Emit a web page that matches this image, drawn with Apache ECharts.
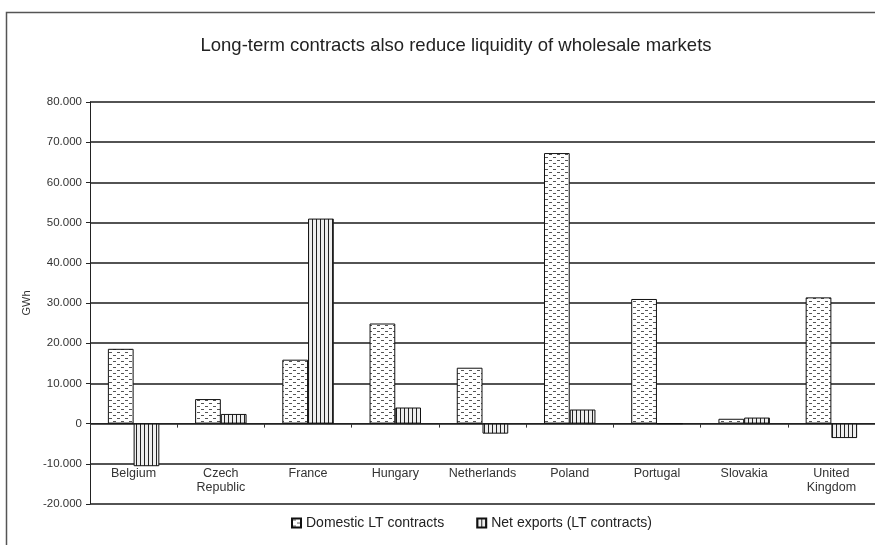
<!DOCTYPE html>
<html>
<head>
<meta charset="utf-8">
<script src="https://cdn.jsdelivr.net/npm/echarts@6/dist/echarts.min.js"></script>
<style>
  html, body { margin: 0; padding: 0; background: #fff; }
  #chart { width: 875px; height: 545px; }
</style>
</head>
<body>
<div id="chart"></div>
<script>
// values (GWh)
const countries = ["Belgium", "Czech\nRepublic", "France", "Hungary", "Netherlands", "Poland", "Portugal", "Slovakia", "United\nKingdom"];
const domesticLT = [18600, 6100, 15900, 24900, 13900, 67300, 31000, 1200, 31400];
const netExportsLT = [-10600, 2400, 51000, 4000, -2500, 3500, 0, 1500, -3600];
const yTicks = { min: -20000, max: 80000, step: 10000 };

// dotted fill like the old excel pattern
function dashPattern() {
  const c = document.createElement("canvas");
  c.width = 8; c.height = 6;
  const g = c.getContext("2d");
  g.fillStyle = "#fff";
  g.fillRect(0, 0, 8, 6);
  g.fillStyle = "#555";
  g.fillRect(1, 1, 3, 1);
  g.fillRect(5, 4, 3, 1);
  return { image: c, repeat: "repeat" };
}

// vertical stripes
function stripePattern() {
  const c = document.createElement("canvas");
  c.width = 4; c.height = 4;
  const g = c.getContext("2d");
  g.fillStyle = "#eee";
  g.fillRect(0, 0, 4, 4);
  g.fillStyle = "#222";
  g.fillRect(0, 0, 1, 4);
  return { image: c, repeat: "repeat" };
}

const fmt = v => (v === 0 ? "0" : (v / 1000) + ".000");

const chart = echarts.init(document.getElementById("chart"), null, { renderer: "canvas" });

chart.setOption({
  animation: false,
  backgroundColor: "#fff",
  textStyle: { fontFamily: "Liberation Sans, Arial, sans-serif" },

  title: {
    text: "Long-term contracts also reduce liquidity of wholesale markets",
    left: 451,
    top: 31,
    textAlign: "center",
    textStyle: { fontSize: 18.5, fontWeight: "normal", color: "#222" }
  },

  // outer chart frame (cropped at right / bottom)
  graphic: [{
    type: "rect",
    shape: { x: 6.5, y: 12.5, width: 900, height: 600 },
    style: { fill: null, stroke: "#555", lineWidth: 1.5 },
    silent: true
  }],

  legend: {
    left: 286,
    top: 511,
    icon: "rect",
    itemWidth: 9,
    itemHeight: 9,
    itemGap: 32,
    textStyle: { fontSize: 14, color: "#222" },
    data: ["Domestic LT contracts", "Net exports (LT contracts)"]
  },

  grid: { left: 90, top: 102, width: 790, height: 402 },

  xAxis: [
    {
      type: "category",
      data: countries,
      axisLine: { onZero: true, lineStyle: { color: "#222", width: 1 } },
      axisTick: { show: true, length: 4, lineStyle: { color: "#333" } },
      axisLabel: { show: false }
    },
    {
      type: "category",
      data: countries,
      position: "bottom",
      offset: -41,
      axisLine: { show: false },
      axisTick: { show: false },
      axisLabel: { interval: 0, fontSize: 12.5, color: "#333", margin: 4, lineHeight: 14 }
    }
  ],

  yAxis: {
    type: "value",
    min: yTicks.min,
    max: yTicks.max,
    interval: yTicks.step,
    name: "GWh",
    nameLocation: "middle",
    nameGap: 58,
    nameTextStyle: { fontSize: 11, color: "#333" },
    axisLine: { show: true, lineStyle: { color: "#222", width: 1 } },
    axisTick: { show: true, length: 4, lineStyle: { color: "#222" } },
    axisLabel: { formatter: fmt, fontSize: 11.5, color: "#333", margin: 8 },
    splitLine: { show: true, lineStyle: { color: "#1a1a1a", width: 1.6 } }
  },

  series: [
    {
      name: "Domestic LT contracts",
      type: "bar",
      xAxisIndex: 0,
      data: domesticLT,
      barGap: "0%",
      barCategoryGap: "41%",
      itemStyle: { color: dashPattern(), borderColor: "#111", borderWidth: 1 }
    },
    {
      name: "Net exports (LT contracts)",
      type: "bar",
      xAxisIndex: 0,
      data: netExportsLT,
      itemStyle: { color: stripePattern(), borderColor: "#111", borderWidth: 1 }
    }
  ]
});
</script>
</body>
</html>
